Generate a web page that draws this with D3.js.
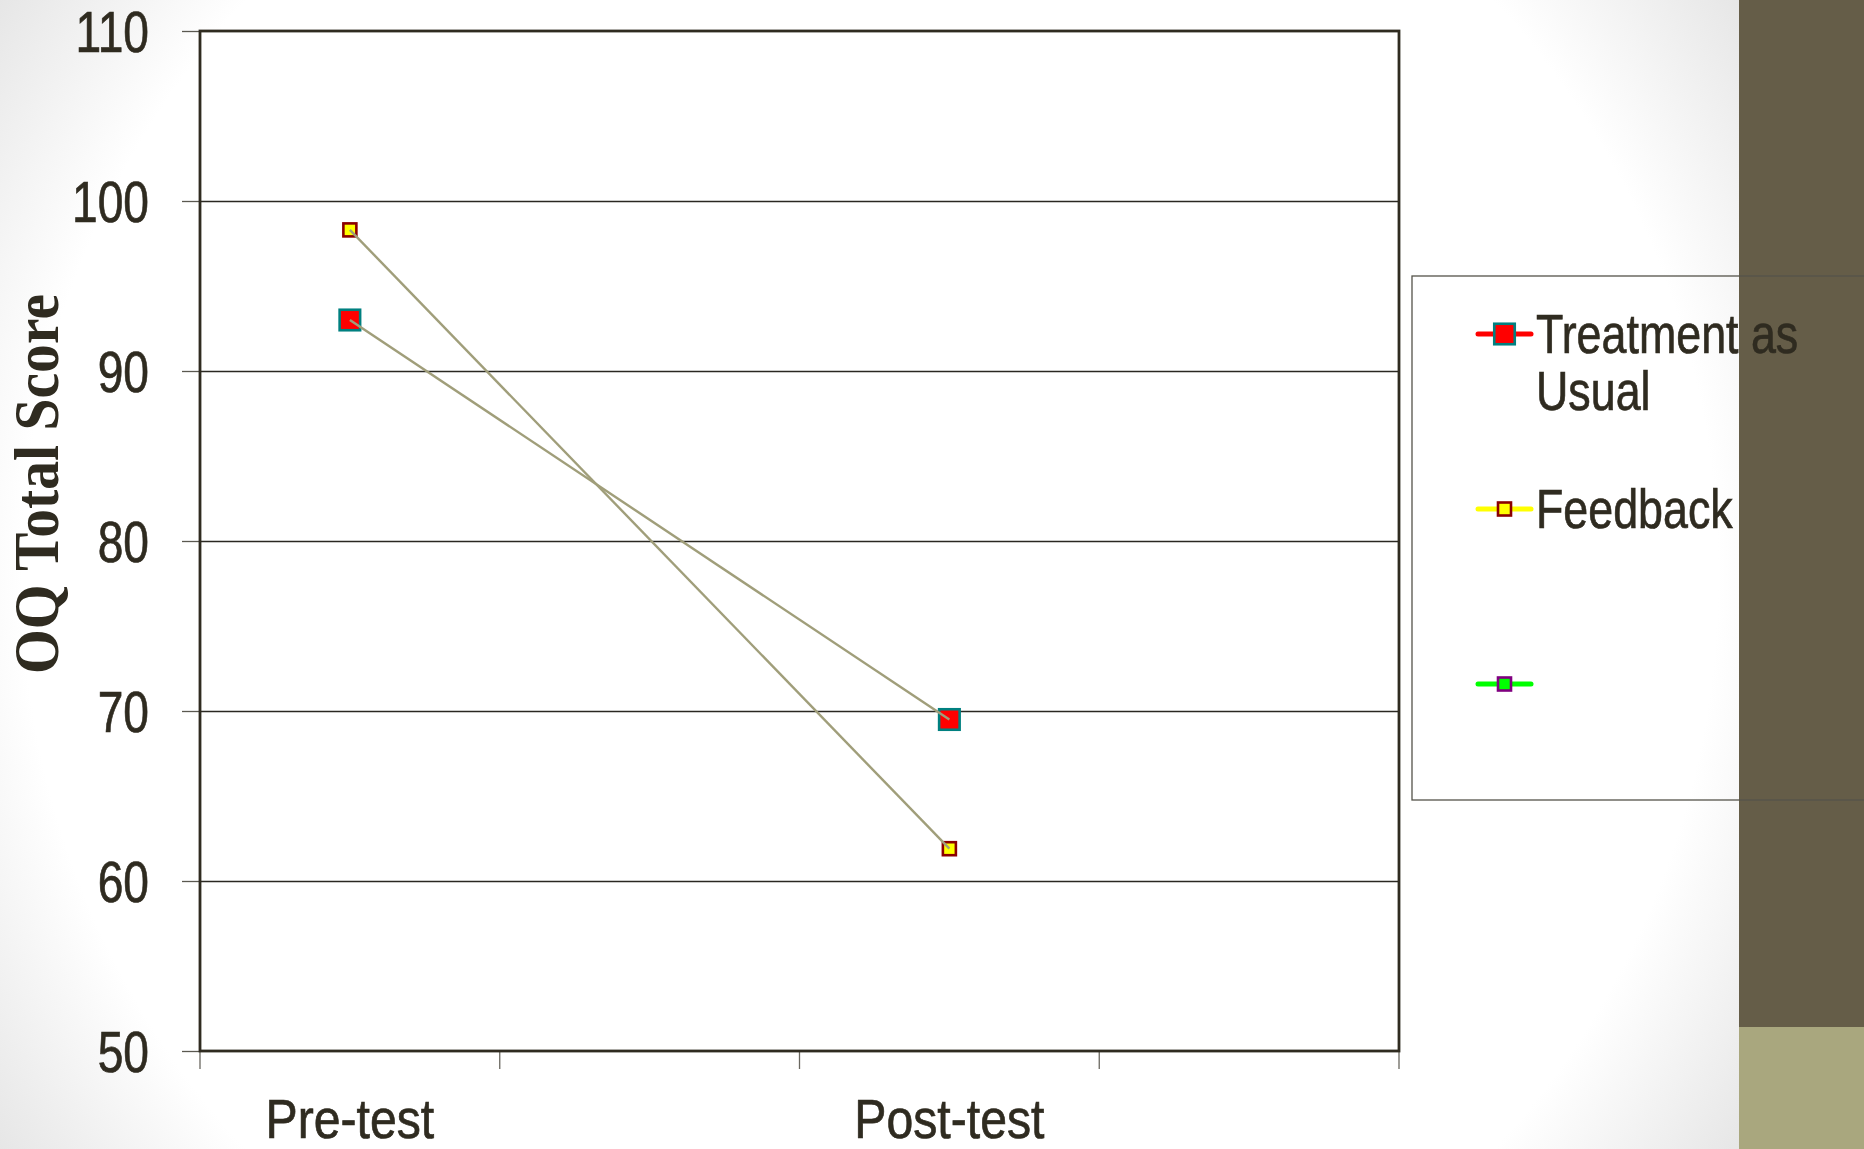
<!DOCTYPE html>
<html>
<head>
<meta charset="utf-8">
<script src="https://cdn.jsdelivr.net/npm/d3@7"></script>
<style>
  html, body { margin: 0; padding: 0; background: #fff; }
  svg { display: block; }
</style>
</head>
<body>
<svg id="chart" width="1864" height="1149"></svg>
<script>
// Category slots along the x axis (two unlabeled slots, as in the source workbook)
const categories = ["Pre-test", "", "Post-test", ""];
// OQ Total Score means per measurement occasion (null = no data)
const tauValues = [93.0, null, 69.5, null];
const feedbackValues = [98.3, null, 61.9, null];
const yTicks = [50, 60, 70, 80, 90, 100, 110];
const seriesNames = ["Treatment as Usual", "Feedback", ""];

const W = 1864, H = 1149;
const plot = { left: 200, right: 1399, top: 31, bottom: 1051 };
const ink = "#2F2B20";
const sans = "'Liberation Sans', Arial, sans-serif";

// narrow look: squeeze a text's natural advance width, with a touch of extra weight
function squeeze(sel, factor) {
  sel.attr("stroke", ink).attr("stroke-width", 0.7);
  sel.each(function () {
    const len = this.getComputedTextLength();
    if (len > 0) {
      d3.select(this).attr("textLength", len * factor).attr("lengthAdjust", "spacingAndGlyphs");
    }
  });
}

const svg = d3.select("#chart");
const defs = svg.append("defs");

// soft radial page background, greying toward the corners
const bg = defs.append("radialGradient")
  .attr("id", "pageBg").attr("gradientUnits", "userSpaceOnUse")
  .attr("cx", 870).attr("cy", 575).attr("r", 1060);
bg.append("stop").attr("offset", 0).attr("stop-color", "#ffffff");
bg.append("stop").attr("offset", 0.8).attr("stop-color", "#ffffff");
bg.append("stop").attr("offset", 1).attr("stop-color", "#e4e4e4");
svg.append("rect").attr("width", W).attr("height", H).attr("fill", "url(#pageBg)");

// right-hand decorative panels
svg.append("rect").attr("x", 1739).attr("y", 0).attr("width", W - 1739).attr("height", 1027).attr("fill", "#655D48");
svg.append("rect").attr("x", 1739).attr("y", 1027).attr("width", W - 1739).attr("height", H - 1027).attr("fill", "#A9A77E");

// scales
const x = d3.scaleBand().domain(d3.range(categories.length)).range([plot.left, plot.right]).padding(0);
const y = d3.scaleLinear().domain([50, 110]).range([plot.bottom, plot.top]);
const cx = i => x(i) + x.bandwidth() / 2;

// plot area
svg.append("rect")
  .attr("x", plot.left).attr("y", plot.top)
  .attr("width", plot.right - plot.left).attr("height", plot.bottom - plot.top)
  .attr("fill", "#ffffff");

// horizontal gridlines
svg.append("g").selectAll("line")
  .data(yTicks.filter(t => t > 50 && t < 110))
  .join("line")
  .attr("x1", plot.left).attr("x2", plot.right)
  .attr("y1", d => Math.round(y(d)) + 0.5).attr("y2", d => Math.round(y(d)) + 0.5)
  .attr("stroke", "#2a2822").attr("stroke-width", 1.3);

// y axis with outward ticks
const yAxis = svg.append("g")
  .attr("transform", `translate(${plot.left},0)`)
  .call(d3.axisLeft(y).tickValues(yTicks).tickSize(18).tickPadding(33).tickFormat(d3.format("d")));
yAxis.select(".domain").remove();
yAxis.selectAll(".tick line").attr("stroke", "#5a5850").attr("stroke-width", 1.3);
yAxis.selectAll(".tick text")
  .attr("fill", ink).attr("font-family", sans).attr("font-size", 57)
  .attr("dy", "0.36em")
  .call(squeeze, 0.81);

// x axis: boundary ticks between category slots, labels centered in slots
const xTickPos = d3.range(categories.length + 1).map(i => plot.left + i * x.bandwidth());
svg.append("g").selectAll("line")
  .data(xTickPos)
  .join("line")
  .attr("x1", d => d).attr("x2", d => d)
  .attr("y1", plot.bottom).attr("y2", plot.bottom + 18)
  .attr("stroke", "#6a6860").attr("stroke-width", 1.3);
svg.append("g").selectAll("text")
  .data(categories.map((c, i) => ({ c, i })).filter(d => d.c))
  .join("text")
  .attr("x", d => cx(d.i)).attr("y", 1138)
  .attr("text-anchor", "middle")
  .attr("fill", ink).attr("font-family", sans).attr("font-size", 56)
  .text(d => d.c)
  .call(squeeze, 0.86);

// plot frame
svg.append("rect")
  .attr("x", plot.left).attr("y", plot.top)
  .attr("width", plot.right - plot.left).attr("height", plot.bottom - plot.top)
  .attr("fill", "none").attr("stroke", ink).attr("stroke-width", 2.8);

// y axis title
svg.append("text")
  .attr("transform", `translate(58,484) rotate(-90)`)
  .attr("text-anchor", "middle")
  .attr("fill", ink)
  .attr("font-family", "'Liberation Serif', 'Times New Roman', serif")
  .attr("font-weight", "bold").attr("font-size", 64)
  .attr("textLength", 380).attr("lengthAdjust", "spacingAndGlyphs")
  .text("OQ Total Score");

// series
const series = [
  { values: tauValues, size: 20.5, fill: "#FF0000", stroke: "#008080" },
  { values: feedbackValues, size: 13, fill: "#FFFF00", stroke: "#8B0000" }
];
const line = d3.line().x(d => cx(d.i)).y(d => y(d.v));

series.forEach(s => {
  const pts = s.values.map((v, i) => ({ v, i })).filter(d => d.v != null);
  svg.append("g").selectAll("rect")
    .data(pts)
    .join("rect")
    .attr("x", d => cx(d.i) - s.size / 2).attr("y", d => y(d.v) - s.size / 2)
    .attr("width", s.size).attr("height", s.size)
    .attr("fill", s.fill).attr("stroke", s.stroke).attr("stroke-width", 2.6);
});
series.forEach(s => {
  const pts = s.values.map((v, i) => ({ v, i })).filter(d => d.v != null);
  svg.append("path").datum(pts)
    .attr("d", line)
    .attr("fill", "none").attr("stroke", "#A09E7A").attr("stroke-width", 2.4);
});

// legend
const legend = svg.append("g");
legend.append("rect")
  .attr("x", 1412).attr("y", 276).attr("width", 480).attr("height", 524)
  .attr("fill", "none").attr("stroke", "#55534a").attr("stroke-width", 1.3);

const legendItems = [
  { name: seriesNames[0], y: 334, line: "#FF0000", fill: "#FF0000", stroke: "#008080", size: 20.5, lines: ["Treatment as", "Usual"] },
  { name: seriesNames[1], y: 509, line: "#FFFF00", fill: "#FFFF00", stroke: "#8B0000", size: 13, lines: ["Feedback"] },
  { name: seriesNames[2], y: 684, line: "#00FF00", fill: "#00FF00", stroke: "#800080", size: 13, lines: [] }
];
legendItems.forEach(it => {
  legend.append("line")
    .attr("x1", 1478).attr("x2", 1531).attr("y1", it.y).attr("y2", it.y)
    .attr("stroke", it.line).attr("stroke-width", 5).attr("stroke-linecap", "round");
  legend.append("rect")
    .attr("x", 1504.5 - it.size / 2).attr("y", it.y - it.size / 2)
    .attr("width", it.size).attr("height", it.size)
    .attr("fill", it.fill).attr("stroke", it.stroke).attr("stroke-width", 2.6);
  it.lines.forEach((t, k) => {
    legend.append("text")
      .attr("x", 1536).attr("y", it.y + 19 + k * 57)
      .attr("fill", ink).attr("font-family", sans).attr("font-size", 56)
      .text(t)
      .call(squeeze, 0.8);
  });
});
</script>
</body>
</html>
